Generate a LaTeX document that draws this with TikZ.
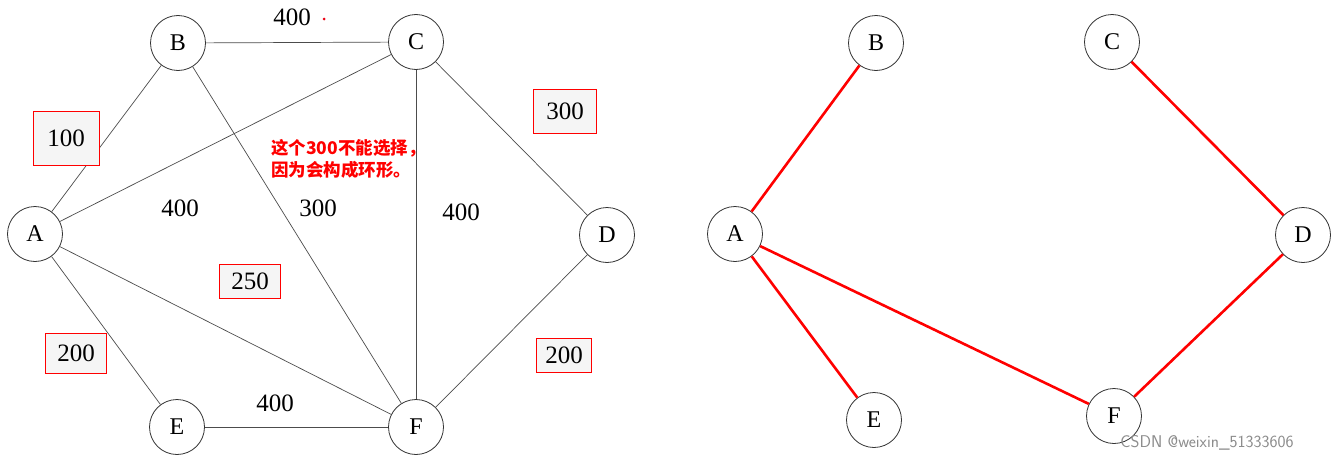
\documentclass[tikz,border=0pt]{standalone}
\usepackage{fontspec}
\setmainfont{Liberation Serif}
\newfontfamily\cjk{Noto Sans CJK SC}
\begin{document}
\begin{tikzpicture}[x=1pt,y=-1pt,
  nd/.style={circle,draw=black!80,line width=0.8pt,fill=white,minimum size=55pt,inner sep=0pt,font=\fontsize{24}{24}\selectfont},
  ed/.style={draw=black!70,line width=0.7pt},
  re/.style={draw=red,line width=2.6pt},
  lb/.style={font=\fontsize{25}{25}\selectfont},
  bx/.style={draw=red,line width=1pt,fill=black!4,minimum height=34pt,inner xsep=4pt,font=\fontsize{25}{25}\selectfont}]
\useasboundingbox (0,0) rectangle (1338,463);
\fill[white] (0,0) rectangle (1338,463);
% left graph
\node[nd] (B) at (178,43) {B};
\node[nd] (C) at (416,42) {C};
\node[nd] (A) at (35,234) {A};
\node[nd] (D) at (607,235) {D};
\node[nd] (E) at (177,427) {E};
\node[nd] (F) at (416,427) {F};
\draw[ed] (B)--(C);
\draw[ed] (A)--(B); \draw[ed] (A)--(C); \draw[ed] (A)--(F);
\draw[ed] (A)--(E); \draw[ed] (B)--(F); \draw[ed] (C)--(F);
\draw[ed] (C)--(D); \draw[ed] (D)--(F); \draw[ed] (E)--(F);
\node[lb] (l1) at (292,17) {400};
\fill[red!70!purple] (324,19) circle (1.5);
\node[bx,minimum width=66pt,minimum height=54pt] (b1) at (66,138) {100};
\node[bx,minimum width=63pt,minimum height=44pt] (b2) at (565,111) {300};
\node[lb] (l2) at (180,208) {400};
\node[lb] (l3) at (318,208) {300};
\node[lb] (l4) at (461,212) {400};
\node[bx,minimum width=61pt] (b3) at (250,281) {250};
\node[bx,minimum width=61pt,minimum height=40pt] (b4) at (76,353) {200};
\node[lb] (l5) at (275,403) {400};
\node[bx,minimum width=55pt] (b5) at (564,355) {200};
\node[align=left,text=red,font=\cjk\fontsize{17.5}{22}\selectfont\bfseries,anchor=west,inner sep=0pt] (t) at (271,159) {这个300不能选择，\\因为会构成环形。};
% right graph
\node[nd] (B2) at (876,43) {B};
\node[nd] (C2) at (1112,42) {C};
\node[nd] (A2) at (735,234) {A};
\node[nd] (D2) at (1303,235) {D};
\node[nd] (E2) at (874,420) {E};
\node[nd] (F2) at (1114,416) {F};
\draw[re] (A2)--(B2);
\draw[re] (A2)--(E2);
\draw[re] (A2)--(F2);
\draw[re] (C2)--(D2);
\draw[re] (D2)--(F2);
\node[text=black!45,font=\fontsize{17}{17}\selectfont\sffamily] (w) at (1207,443) {CSDN @weixin\_51333606};
\end{tikzpicture}
\end{document}
